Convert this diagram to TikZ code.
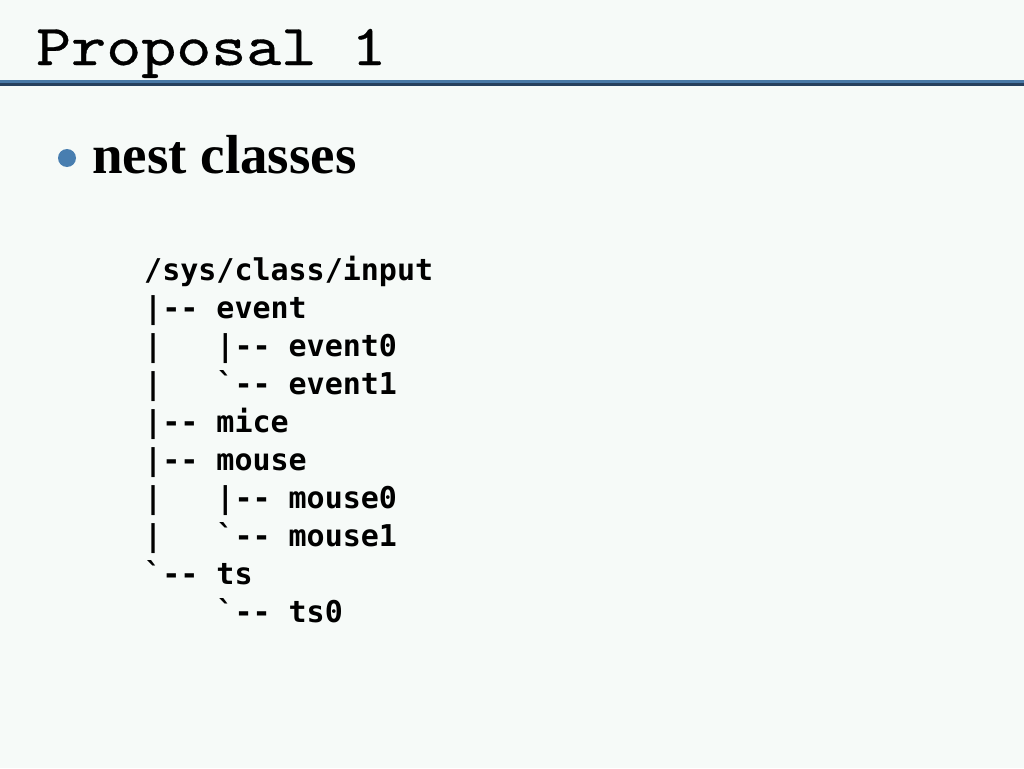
\documentclass[tikz,border=0pt]{standalone}
\usepackage{fontspec}
\setmainfont{Liberation Serif}
\setmonofont{DejaVu Sans Mono}
\newfontfamily\titlefont{lmmono10-regular}[Extension=.otf,FakeStretch=1.15,FakeBold=0.6]
\usetikzlibrary{positioning}
\definecolor{slidebg}{RGB}{246,250,248}
\definecolor{rulelight}{RGB}{72,120,166}
\definecolor{ruledark}{RGB}{38,64,94}
\definecolor{dotblue}{RGB}{72,126,176}
\newcommand\tcell{\hphantom{0}}
\newcommand\tgrave{\textasciigrave}
\tikzset{
  slidetitle/.style={inner sep=0pt,anchor=base west,font=\titlefont\fontsize{58}{60}\selectfont},
  item/.style={inner sep=0pt,anchor=base west,font=\bfseries\fontsize{55}{60}\selectfont},
  dot/.style={circle,fill=dotblue,inner sep=0pt,minimum size=18pt},
  treeline/.style={inner sep=0pt,anchor=base west,font=\ttfamily\bfseries\fontsize{30}{38}\selectfont}
}
\begin{document}
\begin{tikzpicture}[x=1pt,y=-1pt]
  \useasboundingbox (0,0) rectangle (1024,768);
  \fill[slidebg] (0,0) rectangle (1024,768);
  % title and rule
  \node[slidetitle] (title) at (36,65) {Proposal 1};
  \fill[rulelight] (0,80) rectangle (1024,83);
  \fill[ruledark] (0,83) rectangle (1024,86);
  % bullet
  \node[dot] (bullet) at (67,158) {};
  \node[item] (nest) at (92,173) {nest classes};
  % directory tree
  \foreach \txt [count=\i] in {
      {/sys/class/input},
      {|-{}-\tcell event},
      {|\tcell\tcell\tcell|-{}-\tcell event0},
      {|\tcell\tcell\tcell\tgrave-{}-\tcell event1},
      {|-{}-\tcell mice},
      {|-{}-\tcell mouse},
      {|\tcell\tcell\tcell|-{}-\tcell mouse0},
      {|\tcell\tcell\tcell\tgrave-{}-\tcell mouse1},
      {\tgrave-{}-\tcell ts},
      {\tcell\tcell\tcell\tcell\tgrave-{}-\tcell ts0}}{
    \node[treeline] (line\i) at (144,280+38*\i-38) {\txt};}
\end{tikzpicture}
\end{document}
